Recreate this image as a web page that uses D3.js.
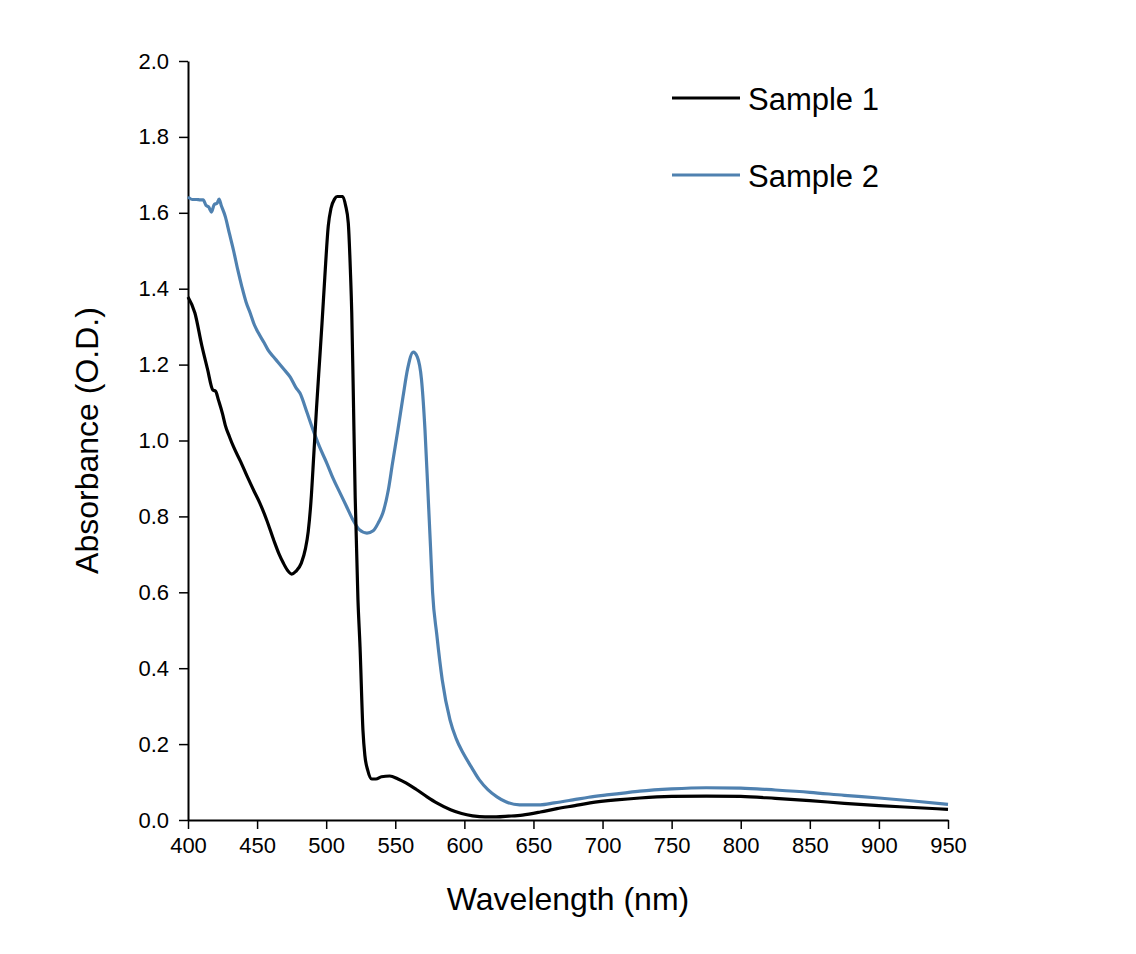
<!DOCTYPE html>
<html><head><meta charset="utf-8">
<script src="https://cdn.jsdelivr.net/npm/d3@7"></script>
<style>
body{margin:0;background:#fff;}
svg{font-family:"Liberation Sans",Arial,Helvetica,sans-serif;}
</style></head>
<body><svg id="chart" width="1136" height="954"></svg>
<script>
const seriesNames = ["Sample 1", "Sample 2"];
const xTicks = [400,450,500,550,600,650,700,750,800,850,900,950];
const yTicks = [0,0.2,0.4,0.6,0.8,1.0,1.2,1.4,1.6,1.8,2.0];

const s1Wavelength = [400,405,410,414,418,420,422,425,427,430,433,438,443,448,452,457,462,466,469,472,475,478,482,485,487,489,491,493,495.5,497,499,501.5,503.5,506,508,512,514,516,517.5,518.5,519.5,521,523,524.5,526.6,528,530,533,536,540,546,552,558,565,573,580,590,598,606,615,623,632,642,655,667,680,691,710,727,750,775,800,825,850,875,900,925,950];
const s1Absorbance = [1.378,1.336,1.25,1.19,1.133,1.13,1.107,1.07,1.04,1.01,0.983,0.945,0.904,0.865,0.835,0.79,0.738,0.70,0.677,0.658,0.648,0.655,0.677,0.715,0.76,0.84,0.96,1.085,1.225,1.31,1.43,1.565,1.612,1.636,1.643,1.643,1.62,1.573,1.45,1.336,1.15,0.85,0.58,0.456,0.237,0.17,0.132,0.108,0.108,0.114,0.116,0.108,0.097,0.081,0.061,0.045,0.027,0.017,0.011,0.008,0.008,0.010,0.013,0.021,0.03,0.038,0.045,0.053,0.058,0.062,0.063,0.062,0.057,0.051,0.044,0.038,0.033,0.028];

const s2Wavelength = [400,403,406,409,411,413,415,417,419,421,422.5,424,427,430,433,436,439,442,445,448,451,455,458,462,465,470,474,478,481,486,490.5,495,500.5,505,510,515,519.5,524,529.5,534,538,541,545,548,552,555.6,559,563,566,569,571.5,573.7,575.5,577,580,584,589.6,594,599,605,611,617,623.6,630,640,655,665,678.6,690,703,715,727,750,775,800,825,850,875,900,925,950];
const s2Absorbance = [1.642,1.635,1.635,1.634,1.634,1.62,1.615,1.602,1.622,1.625,1.636,1.62,1.59,1.545,1.50,1.45,1.405,1.365,1.336,1.305,1.283,1.258,1.238,1.22,1.207,1.185,1.167,1.14,1.125,1.075,1.028,0.985,0.94,0.9,0.862,0.824,0.79,0.765,0.756,0.762,0.785,0.809,0.87,0.94,1.03,1.115,1.19,1.233,1.22,1.16,1.028,0.86,0.72,0.60,0.49,0.369,0.264,0.215,0.177,0.14,0.105,0.08,0.061,0.048,0.04,0.04,0.045,0.053,0.06,0.066,0.071,0.076,0.082,0.085,0.084,0.079,0.073,0.065,0.058,0.05,0.041];

const colors = ["#000000", "#4f81b0"];

const svg = d3.select("#chart");
const margin = {left:188, top:61, right:188, bottom:134};
const W = 1136, H = 954;
const x = d3.scaleLinear().domain([400,950]).range([margin.left, W - margin.right]);
const y = d3.scaleLinear().domain([0,2.0]).range([H - margin.bottom, margin.top]);

const xAxis = svg.append("g").attr("transform", `translate(0,${H - margin.bottom})`)
  .call(d3.axisBottom(x).tickValues(xTicks).tickSize(9).tickPadding(8).tickSizeOuter(0).tickFormat(d3.format("d")));
const yAxis = svg.append("g").attr("transform", `translate(${margin.left},0)`)
  .call(d3.axisLeft(y).tickValues(yTicks).tickSize(9).tickPadding(10).tickSizeOuter(0).tickFormat(d3.format(".1f")));
[xAxis, yAxis].forEach(a => {
  a.selectAll("path.domain").attr("stroke", "#000").attr("stroke-width", 2);
  a.selectAll(".tick line").attr("stroke", "#000").attr("stroke-width", 1.5);
  a.selectAll(".tick text").attr("fill", "#000").style("font-size", "22px")
   .style("font-family", '"Liberation Sans",Arial,sans-serif');
});

const line = d3.line().x(d => x(d[0])).y(d => y(d[1])).curve(d3.curveMonotoneX);
const data1 = s1Wavelength.map((w,i) => [w, s1Absorbance[i]]);
const data2 = s2Wavelength.map((w,i) => [w, s2Absorbance[i]]);

svg.append("path").datum(data2).attr("d", line).attr("fill","none")
  .attr("stroke", colors[1]).attr("stroke-width", 3.2).attr("stroke-linejoin","round");
svg.append("path").datum(data1).attr("d", line).attr("fill","none")
  .attr("stroke", colors[0]).attr("stroke-width", 3.2).attr("stroke-linejoin","round");

// axis titles
svg.append("text").attr("x", (x(400)+x(950))/2).attr("y", 910).attr("text-anchor","middle")
  .style("font-size","32px").attr("fill","#000").text("Wavelength (nm)");
svg.append("text").attr("transform", `translate(98,${(y(0)+y(2))/2}) rotate(-90)`)
  .attr("text-anchor","middle").style("font-size","32px").attr("fill","#000").text("Absorbance (O.D.)");

// legend
const legend = svg.append("g");
seriesNames.forEach((name, i) => {
  const ly = 98 + i * 77;
  legend.append("line").attr("x1", 672).attr("x2", 740).attr("y1", ly).attr("y2", ly)
    .attr("stroke", colors[i]).attr("stroke-width", 3.2);
  legend.append("text").attr("x", 748).attr("y", ly + 1).attr("dy", "0.35em")
    .style("font-size","31px").attr("fill","#000").text(name);
});
</script></body></html>
